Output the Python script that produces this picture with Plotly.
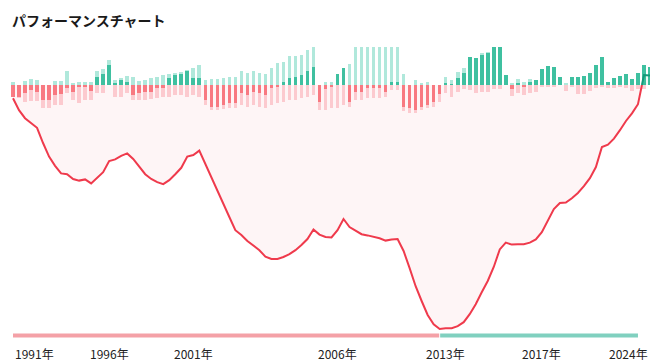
import plotly.graph_objects as go

# ---------------- data ----------------
periods = list(range(107))

drawdown = [
    -3.3, -6.3, -8.3, -9.5, -10.7, -14.5, -17.9, -20.2, -22.1, -22.3,
    -23.5, -23.9, -23.6, -24.6, -23.3, -21.8, -19.0, -18.6, -17.7, -17.1,
    -18.5, -20.4, -22.3, -23.5, -24.3, -24.8, -23.8, -22.3, -20.7, -17.9,
    -17.5, -16.4, -19.8, -23.0, -26.3, -29.8, -33.0, -36.3, -37.5, -39.0,
    -40.1, -41.3, -42.9, -43.5, -43.5, -43.0, -42.3, -41.3, -40.0, -38.5,
    -36.1, -37.4, -38.0, -38.1, -36.3, -33.5, -35.5, -36.5, -37.3, -37.6,
    -37.9, -38.3, -38.9, -38.6, -38.5, -41.5, -45.8, -50.3, -54.0, -57.5,
    -59.8, -61.0, -60.8, -60.8, -60.3, -59.3, -57.3, -54.8, -51.8, -49.0,
    -45.5, -41.1, -39.4, -39.9, -39.8, -39.8, -39.4, -38.6, -36.8, -34.0,
    -31.0, -29.5, -29.4, -28.3, -27.0, -25.3, -23.3, -20.5, -15.5, -14.9,
    -13.4, -11.3, -9.0, -7.1, -4.8, 2.5, 2.4,
]

period_high = [
    0.7, 0, 1.0, 1.4, 1.3, 0, 0, 1.0, 1.0, 3.6,
    0.3, 0.8, 0.7, 0.7, 3.5, 3.9, 6.3, 1.3, 1.7, 2.3,
    1.9, 1.1, 1.3, 1.7, 1.9, 2.6, 2.8, 3.1, 3.2, 3.8,
    4.2, 5.0, 1.3, 1.5, 1.5, 1.7, 2.1, 2.1, 3.6, 3.1,
    3.6, 3.1, 2.7, 4.3, 5.4, 5.8, 7.3, 7.3, 7.5, 8.8,
    9.8, 0, 0.7, 0.7, 2.8, 4.2, 5.2, 11.5, 11.8, 12.0,
    11.2, 11.6, 10.9, 11.4, 10.6, 2.7, 0, 1.3, 0.3, 0.8,
    0, 0, 1.9, 1.3, 3.2, 4.3, 7.1, 6.7, 7.9, 8.3,
    11.3, 10.8, 2.5, 0.4, 1.4, 0.8, 1.4, 1.3, 3.9, 4.8,
    4.4, 1.9, 0.6, 1.9, 2.1, 2.3, 2.9, 5.0, 7.1, 0.7,
    1.8, 2.3, 2.8, 1.4, 2.9, 5.0, 4.4,
]

period_low = [
    -2.9, -3.3, -4.2, -4.0, -4.0, -5.8, -5.8, -5.0, -5.0, -2.1,
    -3.8, -4.6, -3.8, -3.8, -1.9, -2.1, 0, -2.9, -2.9, -2.1,
    -3.8, -3.8, -3.8, -3.6, -3.3, -2.9, -2.9, -2.5, -2.5, -2.9,
    -2.5, -2.9, -5.0, -6.3, -6.3, -6.1, -5.8, -5.8, -5.0, -5.4,
    -5.0, -5.4, -5.8, -5.0, -4.6, -4.2, -3.8, -3.8, -3.3, -2.9,
    -2.5, -6.3, -6.3, -5.8, -5.8, -5.0, -5.4, -3.8, -3.8, -3.3,
    -3.3, -3.3, -2.9, -1.3, -1.3, -6.4, -6.9, -6.9, -6.3, -5.8,
    -5.4, -4.2, -2.1, -2.9, -1.7, -1.1, -1.3, -2.1, -1.7, -1.7,
    -1.1, -1.1, 0, -2.8, -2.1, -2.5, -2.1, -1.7, -0.4, -0.4,
    -0.4, 0, -1.4, -0.4, -2.3, -2.3, -1.4, -0.8, -0.4, -0.7,
    -0.7, -0.4, -0.8, -1.4, -1.1, -1.1, 0,
]

period_return = [
    -2.9, -2.9, -1.9, -1.3, -1.7, -3.8, -3.8, -2.5, -2.3, -0.8,
    -1.7, -0.6, -0.4, -1.4, 1.9, 2.8, 5.0, 0.6, 1.3, 0.8,
    -2.5, -2.1, -1.7, -1.7, -0.8, -0.8, 1.7, 2.5, 2.8, 3.6,
    1.7, 1.7, -3.8, -5.4, -5.4, -5.0, -4.6, -4.6, -2.1, -2.5,
    -1.7, -1.9, -2.5, -0.8, -0.3, 0.7, 1.7, 1.9, 2.5, 3.5,
    4.4, -4.2, -1.1, -0.3, 2.8, 4.2, -4.2, -1.7, -1.7, -0.8,
    -0.8, -0.8, -1.7, 0.7, 0.7, -5.4, -5.8, -6.3, -5.4, -5.0,
    -4.2, -2.3, 0.4, 0.1, 1.7, 2.9, 7.1, 6.7, 7.5, 7.9,
    11.3, 10.8, 2.5, -1.0, 0.3, -0.4, 0.8, 1.3, 3.9, 4.8,
    4.4, 1.9, 0, 1.9, 2.1, 2.3, 2.9, 5.0, 7.1, 0.7,
    1.8, 2.3, 2.8, 1.4, 2.9, 5.0, 4.4,
]

tick_labels = ["1991年", "1996年", "2001年", "2006年", "2013年", "2017年", "2024年"]
tick_periods = [0, 16, 30, 54, 72, 88, 106]

# ---------------- styles ----------------
TEAL = "#3fc0a0"
TEAL_LIGHT = "#b0e8db"
RED_BAR = "#f97c84"
PINK_LIGHT = "#fdd2d6"
LINE_RED = "#ef3a4c"
LINE_GREEN = "#149a7a"
FILL_PINK = "rgba(240,80,100,0.055)"
FILL_GREEN = "rgba(20,160,120,0.08)"
BAND_PINK = "#f4a1a7"
BAND_TEAL = "#80d0bf"
BAND_LEVEL = -62.6
FONT = "Noto Sans CJK JP"
BAR_W = 0.6

# the page body adds an 8px offset, so the figure is 8px smaller in each direction
W, H = 650, 356

fig = go.Figure()

# split drawdown into below/above-zero segments with interpolated crossings
segs = []
cur_x, cur_y = [periods[0]], [drawdown[0]]
cur_sign = drawdown[0] >= 0
for i in range(1, len(periods)):
    y0, y1 = drawdown[i - 1], drawdown[i]
    s1 = y1 >= 0
    if s1 != cur_sign:
        xc = periods[i - 1] + (0 - y0) / (y1 - y0) * (periods[i] - periods[i - 1])
        cur_x.append(xc); cur_y.append(0)
        segs.append((cur_sign, cur_x, cur_y))
        cur_x, cur_y = [xc], [0]
        cur_sign = s1
    cur_x.append(periods[i]); cur_y.append(y1)
segs.append((cur_sign, cur_x, cur_y))

# fills (under bars)
for pos, xs, ys in segs:
    fig.add_trace(go.Scatter(x=xs, y=ys, mode="lines", line=dict(width=0),
                             fill="tozeroy", fillcolor=FILL_GREEN if pos else FILL_PINK,
                             hoverinfo="skip", showlegend=False))

# light range bars
fig.add_trace(go.Bar(x=periods, y=period_high, marker_color=TEAL_LIGHT, width=BAR_W,
                     marker_line_width=0, hoverinfo="skip", showlegend=False))
fig.add_trace(go.Bar(x=periods, y=period_low, marker_color=PINK_LIGHT, width=BAR_W,
                     marker_line_width=0, hoverinfo="skip", showlegend=False))
# net bars
fig.add_trace(go.Bar(x=periods, y=period_return,
                     marker_color=[TEAL if v >= 0 else RED_BAR for v in period_return],
                     width=BAR_W, marker_line_width=0, hoverinfo="skip", showlegend=False))

# drawdown line
for pos, xs, ys in segs:
    fig.add_trace(go.Scatter(x=xs, y=ys, mode="lines",
                             line=dict(color=LINE_GREEN if pos else LINE_RED, width=2),
                             hoverinfo="skip", showlegend=False))

# phase band: decline until trough, then recovery until back above zero
trough = min(range(len(drawdown)), key=lambda k: drawdown[k])
recovery_end = max(k for k in range(len(drawdown)) if drawdown[k] < 0)
fig.add_trace(go.Scatter(x=[periods[0], periods[trough] - 0.08], y=[BAND_LEVEL, BAND_LEVEL],
                         mode="lines", line=dict(color=BAND_PINK, width=4),
                         hoverinfo="skip", showlegend=False))
fig.add_trace(go.Scatter(x=[periods[trough] + 0.08, periods[recovery_end]], y=[BAND_LEVEL, BAND_LEVEL],
                         mode="lines", line=dict(color=BAND_TEAL, width=4),
                         hoverinfo="skip", showlegend=False))

# x labels
n = len(tick_labels)
for k, (lab, p) in enumerate(zip(tick_labels, tick_periods)):
    anchor = "left" if k == 0 else ("right" if k == n - 1 else "center")
    fig.add_annotation(x=p, y=0, xref="x", yref="paper", text=lab, showarrow=False,
                       xanchor=anchor, yanchor="middle", yshift=-13,
                       font=dict(family=FONT, size=12, color="#222222"))

fig.update_layout(
    width=W, height=H,
    margin=dict(l=2, r=5, t=39, b=24),
    paper_bgcolor="white", plot_bgcolor="white",
    barmode="overlay", bargap=0,
    title=dict(text="<b>パフォーマンスチャート</b>", x=4 / W, xanchor="left",
               y=1 - 13 / H, yanchor="middle",
               font=dict(family=FONT, size=14, color="#1a1a1a")),
    xaxis=dict(range=[-0.5, 106.5], showgrid=False, zeroline=False,
               showticklabels=False, showline=False, ticks=""),
    yaxis=dict(range=[-63.75, 9.5], showgrid=False, zeroline=False,
               showticklabels=False, showline=False, ticks=""),
    showlegend=False,
)

fig.write_html("out.html")
